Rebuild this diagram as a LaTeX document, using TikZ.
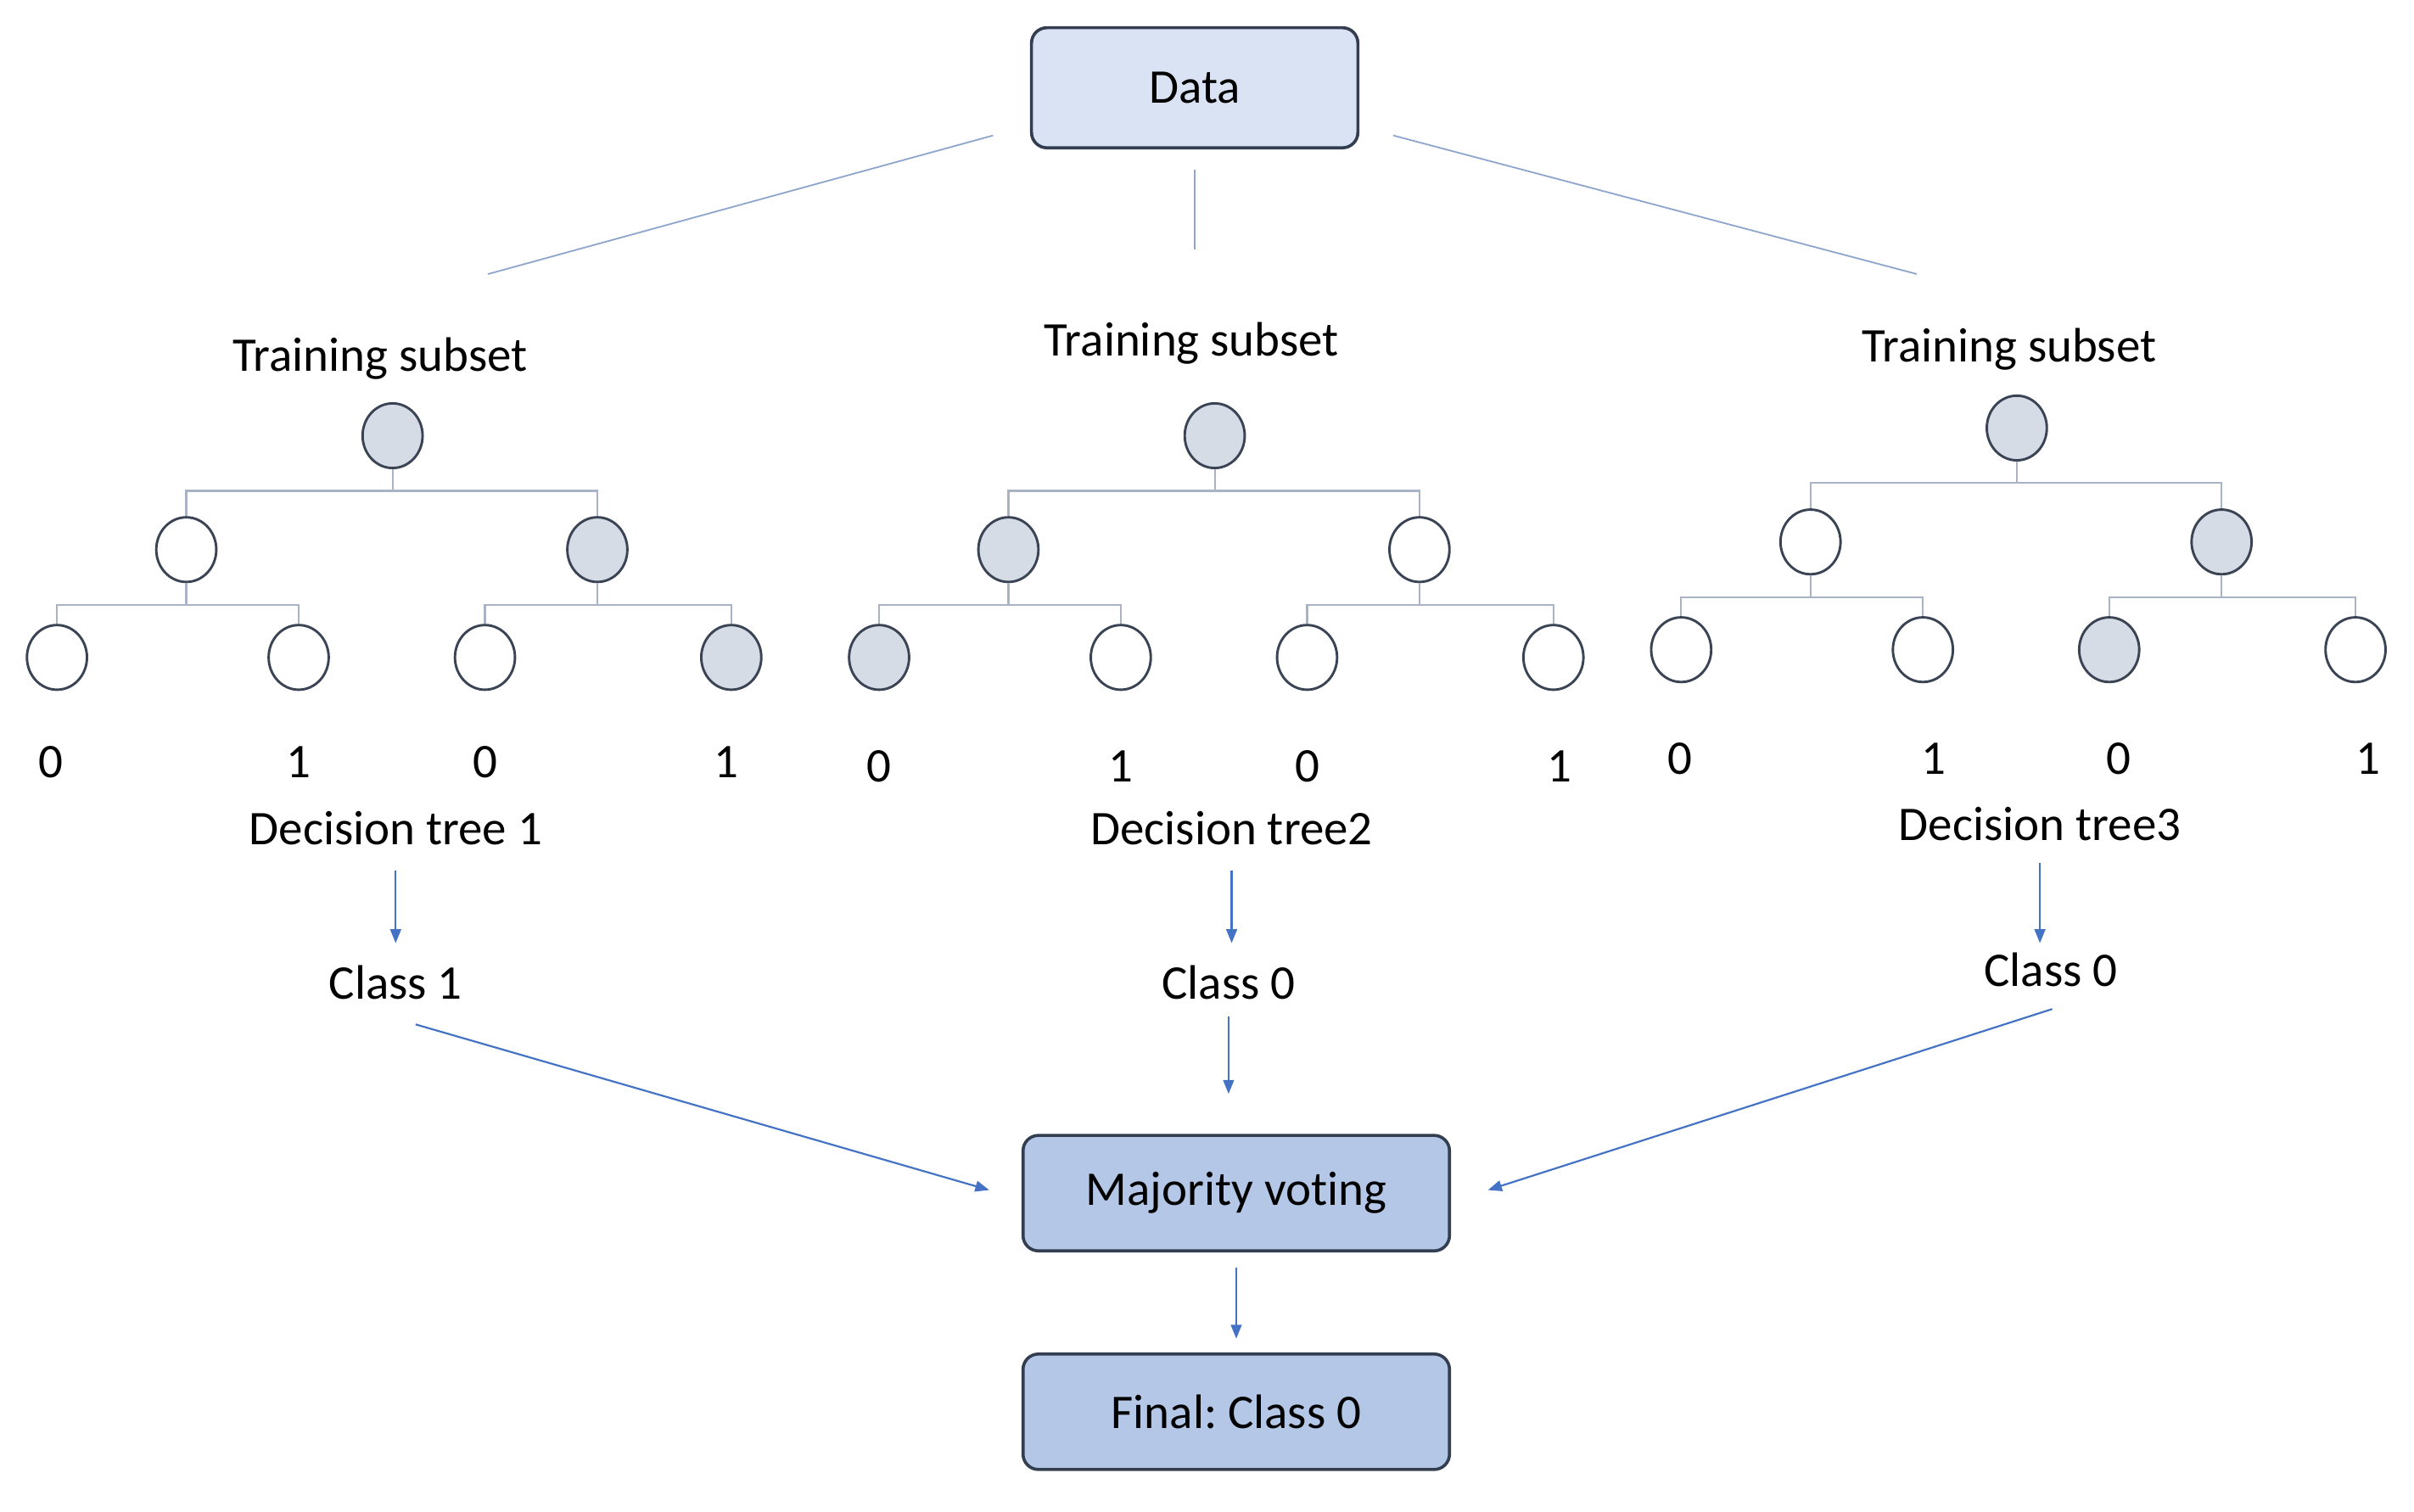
\documentclass[tikz,border=0pt]{standalone}
\usepackage{fontspec}
\setmainfont{Carlito}[Ligatures=NoCommon]
\usetikzlibrary{shapes.geometric,arrows.meta,calc}
\definecolor{dataFill}{HTML}{DAE3F3}
\definecolor{boxFill}{HTML}{B4C7E7}
\definecolor{boxLine}{HTML}{333F50}
\definecolor{nodeFill}{HTML}{D6DCE5}
\definecolor{nodeLine}{HTML}{3A4454}
\definecolor{treeLine}{HTML}{A8B3C5}
\definecolor{dataLine}{HTML}{8FA6CC}
\definecolor{arrowBlue}{HTML}{4472C4}
\newcommand\mydtree[9]{%
  \begin{scope}[shift={#2}]
    \node[#3] (#1r) at (255,283) {};
    \node[#4] (#1a) at (121,357) {};
    \node[#5] (#1b) at (388,357) {};
    \node[#6] (#1c) at (37,427) {};
    \node[#7] (#1d) at (194,427) {};
    \node[#8] (#1e) at (315,427) {};
    \node[#9] (#1f) at (475,427) {};
  \end{scope}
  \draw[tline] (#1r.south) -- ($(#1r.south)+(0,14)$);
  \draw[tline] (#1a.north) |- ($(#1r.south)+(0,14)$) -| (#1b.north);
  \draw[tline] (#1a.south) -- ($(#1a.south)+(0,14)$);
  \draw[tline] (#1c.north) |- ($(#1a.south)+(0,14)$) -| (#1d.north);
  \draw[tline] (#1b.south) -- ($(#1b.south)+(0,14)$);
  \draw[tline] (#1e.north) |- ($(#1b.south)+(0,14)$) -| (#1f.north);
}
\begin{document}
\frenchspacing
\begin{tikzpicture}[x=0.5pt,y=-0.5pt,
  every node/.style={font=\fontsize{15.7pt}{18pt}\selectfont, text=black},
  lbl/.style={inner sep=0pt},
  databox/.style={draw=boxLine, line width=1pt, fill=dataFill, rounded corners=5pt, minimum width=106pt, minimum height=39pt},
  votebox/.style={draw=boxLine, line width=1pt, fill=boxFill, rounded corners=5pt, minimum width=138.5pt, minimum height=37.5pt},
  leafw/.style={ellipse, draw=nodeLine, line width=0.8pt, fill=white, minimum width=19.5pt, minimum height=21pt, inner sep=0pt},
  leafg/.style={leafw, fill=nodeFill},
  tline/.style={draw=treeLine, line width=0.6pt},
  dline/.style={draw=dataLine, line width=0.5pt},
  arr/.style={draw=arrowBlue, line width=0.6pt, -{Triangle[length=4.5pt,width=3.5pt]}},
]
\useasboundingbox[fill=white] (0,0) rectangle (1568,982);

% top box
\node[databox] (data) at (776,57) {Data};

% lines from data
\coordinate (dL) at (645,88);
\coordinate (tL) at (317,178);
\coordinate (dM) at (776,110);
\coordinate (tM) at (776,162);
\coordinate (dR) at (905,88);
\coordinate (tR) at (1245,178);
\draw[dline] (dL) -- (tL);
\draw[dline] (dM) -- (tM);
\draw[dline] (dR) -- (tR);

% training subset labels
\node[lbl] (ts1) at (247,233) {Training subset};
\node[lbl] (ts2) at (774,223) {Training subset};
\node[lbl] (ts3) at (1305,227) {Training subset};

% trees
\mydtree{t1}{(0,0)}{leafg}{leafw}{leafg}{leafw}{leafw}{leafw}{leafg}
\mydtree{t2}{(534,0)}{leafg}{leafg}{leafw}{leafg}{leafw}{leafw}{leafw}
\mydtree{t3}{(1055,-5)}{leafg}{leafw}{leafg}{leafw}{leafw}{leafg}{leafw}

% leaf labels
\node[lbl] (l1c) at (33,495) {0};
\node[lbl] (l1d) at (194,495) {1};
\node[lbl] (l1e) at (315,495) {0};
\node[lbl] (l1f) at (472,495) {1};
\node[lbl] (l2c) at (571,498) {0};
\node[lbl] (l2d) at (728,498) {1};
\node[lbl] (l2e) at (849,498) {0};
\node[lbl] (l2f) at (1013,498) {1};
\node[lbl] (l3c) at (1091,493) {0};
\node[lbl] (l3d) at (1256,493) {1};
\node[lbl] (l3e) at (1376,493) {0};
\node[lbl] (l3f) at (1538,493) {1};

% decision tree labels
\node[lbl] (dt1) at (257,538) {Decision tree 1};
\node[lbl] (dt2) at (800,538) {Decision tree2};
\node[lbl] (dt3) at (1325,535) {Decision tree3};

% class labels
\node[lbl] (c1) at (257,638) {Class 1};
\node[lbl] (c2) at (798,638) {Class 0};
\node[lbl] (c3) at (1332,630) {Class 0};

% bottom boxes
\node[votebox] (mv) at (803,775) {Majority voting};
\node[votebox] (fin) at (803,917) {Final: Class 0};

% arrows
\draw[arr, shorten <=8pt, shorten >=7pt] (dt1.south) -- (dt1.south |- c1.north);
\draw[arr, shorten <=8pt, shorten >=7pt] (dt2.south) -- (dt2.south |- c2.north);
\draw[arr, shorten <=7pt, shorten >=3pt] (dt3.south) -- (dt3.south |- c3.north);
\draw[arr] ($(c1.south)+(13,16)$) -- ($(mv.west)+(-21,-2)$);
\draw[arr, shorten <=5.5pt, shorten >=13pt] (c2.south) -- (c2.south |- mv.north);
\draw[arr] ($(c3.south)+(1,14)$) -- ($(mv.east)+(24,-2)$);
\draw[arr, shorten <=5pt, shorten >=4.5pt] (mv.south) -- (fin.north);
\end{tikzpicture}
\end{document}
